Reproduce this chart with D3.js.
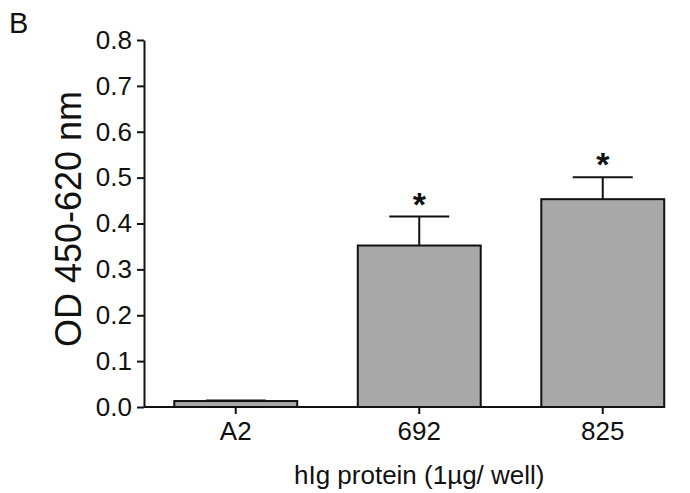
<!DOCTYPE html>
<html lang="en">
<head>
    <meta charset="UTF-8">
    <title>hIg protein OD</title>
    <script src="https://d3js.org/d3.v7.min.js"></script>
    <style>
        body {
            margin: 0;
            padding: 0;
            background-color: #fff;
            font-family: 'Liberation Sans', Arial, sans-serif;
        }

        text {
            fill: #111;
        }

        .axis path,
        .axis line {
            stroke: #111;
            stroke-width: 2;
        }

        .bar {
            fill: #a8a8a8;
            stroke: #111;
            stroke-width: 2;
        }
    </style>
</head>
<body>
    <div id="chart"></div>
    <script>
        const categories = ["A2", "692", "825"];
        const means = [0.013, 0.352, 0.453];
        const errors = [0.001, 0.063, 0.048];
        const marks = ["", "*", "*"];
        const yTicks = [0, 0.1, 0.2, 0.3, 0.4, 0.5, 0.6, 0.7, 0.8];

        const width = 690, height = 493;

        const svg = d3.select("#chart").append("svg")
            .attr("width", width)
            .attr("height", height);

        const xScale = d3.scaleBand()
            .domain(categories)
            .range([144, 694.5])
            .paddingInner(0.33)
            .paddingOuter(0.165);

        const yScale = d3.scaleLinear()
            .domain([0, 0.8])
            .range([407, 40]);

        // bars
        svg.selectAll(".bar")
            .data(means)
            .enter()
            .append("rect")
            .attr("class", "bar")
            .attr("x", (d, i) => xScale(categories[i]))
            .attr("y", d => yScale(d))
            .attr("width", xScale.bandwidth())
            .attr("height", d => yScale(0) - yScale(d));

        // error bars (upper only) + significance stars
        const capW = 60;
        const err = svg.append("g");
        means.forEach((m, i) => {
            const cx = xScale(categories[i]) + xScale.bandwidth() / 2;
            const top = yScale(m + errors[i]);
            err.append("line")
                .attr("x1", cx).attr("x2", cx)
                .attr("y1", yScale(m)).attr("y2", top)
                .attr("stroke", "#111").attr("stroke-width", 2);
            err.append("line")
                .attr("x1", cx - capW / 2).attr("x2", cx + capW / 2)
                .attr("y1", top).attr("y2", top)
                .attr("stroke", "#111").attr("stroke-width", 2);
            if (marks[i]) {
                err.append("text")
                    .attr("x", cx)
                    .attr("y", top - 1)
                    .attr("text-anchor", "middle")
                    .style("font-size", "34px")
                    .style("font-weight", "bold")
                    .text(marks[i]);
            }
        });

        // y axis
        const yAxis = svg.append("g")
            .attr("class", "axis")
            .attr("transform", "translate(144,0)")
            .call(d3.axisLeft(yScale).tickValues(yTicks).tickFormat(d3.format(".1f")).tickSize(7).tickPadding(5).tickSizeOuter(0));
        yAxis.selectAll("text").style("font-size", "26px").style("font-family", "'Liberation Sans', Arial, sans-serif").attr("fill", "#111");

        // x axis
        const last = categories[categories.length - 1];
        const xAxis = svg.append("g")
            .attr("class", "axis")
            .attr("transform", "translate(0,407)")
            .call(d3.axisBottom(xScale).tickSize(7).tickPadding(8).tickSizeOuter(0));
        xAxis.select(".domain").remove();
        xAxis.append("line")
            .attr("x1", 144).attr("x2", xScale(last) + xScale.bandwidth())
            .attr("stroke", "#111").attr("stroke-width", 2);
        xAxis.selectAll("text").style("font-size", "26px").style("font-family", "'Liberation Sans', Arial, sans-serif").attr("fill", "#111");

        // titles
        svg.append("text")
            .attr("x", xScale("692") + xScale.bandwidth() / 2)
            .attr("y", 484)
            .attr("text-anchor", "middle")
            .style("font-size", "26px")
            .text("hIg protein (1µg/ well)");

        svg.append("text")
            .attr("transform", "translate(81,219) rotate(-90)")
            .attr("text-anchor", "middle")
            .style("font-size", "36px")
            .text("OD 450-620 nm");

        svg.append("text")
            .attr("x", 9)
            .attr("y", 33)
            .style("font-size", "29px")
            .text("B");
    </script>
</body>
</html>
